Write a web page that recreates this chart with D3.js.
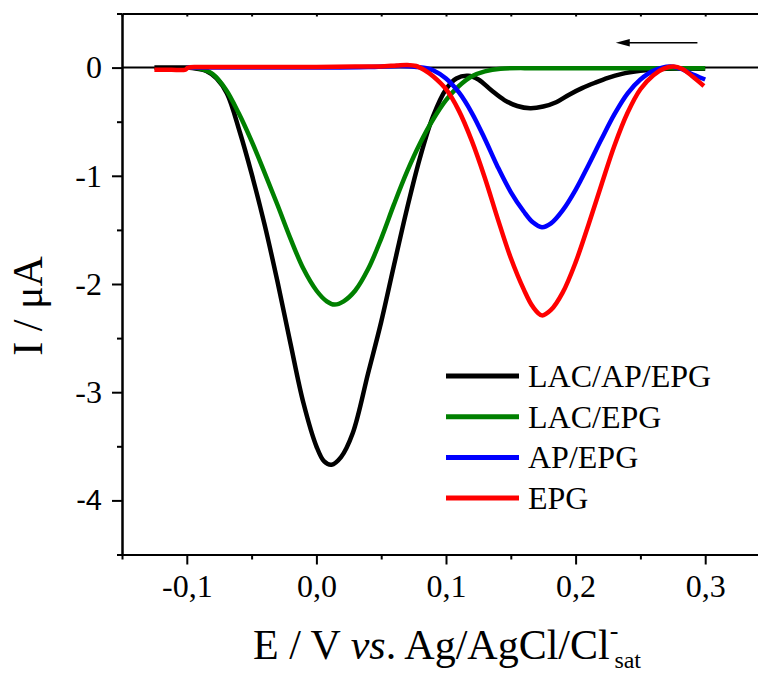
<!DOCTYPE html>
<html>
<meta charset="utf-8">
<style>
  body { margin: 0; background: #fff; }
  svg { display: block; }
</style>

<body>
  <svg></svg>
</body>

<script src="https://d3js.org/d3.v7.min.js"></script>

<script>

  var W = 758, H = 675;
  var margin = { top: 13.5, left: 122 };
  var width = 648, height = 541;

  // data: [E (V), I (uA)]
  var lacApEpg = [
    [-0.125, 0], [-0.110, 0], [-0.100, 0], [-0.092, -0.01], [-0.085, -0.03], [-0.077, -0.10],
    [-0.069, -0.24], [-0.059, -0.60], [-0.050, -0.98], [-0.040, -1.45], [-0.030, -1.98],
    [-0.020, -2.55], [-0.010, -3.10], [0.000, -3.50], [0.006, -3.64], [0.0117, -3.67],
    [0.019, -3.60], [0.028, -3.38], [0.040, -2.82], [0.050, -2.35], [0.060, -1.82],
    [0.070, -1.30], [0.080, -0.83], [0.090, -0.45], [0.100, -0.20], [0.108, -0.10],
    [0.117, -0.075], [0.125, -0.11], [0.135, -0.21], [0.145, -0.30], [0.155, -0.355],
    [0.165, -0.375], [0.175, -0.36], [0.185, -0.32], [0.195, -0.25], [0.205, -0.19],
    [0.215, -0.14], [0.225, -0.095], [0.235, -0.06], [0.250, -0.03], [0.270, -0.01], [0.300, -0.01]
  ];
  var lacEpg = [
    [-0.100, 0], [-0.090, -0.01], [-0.080, -0.06], [-0.070, -0.20], [-0.060, -0.42],
    [-0.050, -0.68], [-0.040, -0.97], [-0.030, -1.27], [-0.020, -1.58], [-0.010, -1.86],
    [0.000, -2.06], [0.008, -2.16], [0.014, -2.19], [0.021, -2.16], [0.030, -2.06],
    [0.040, -1.86], [0.050, -1.58], [0.060, -1.26], [0.070, -0.96], [0.080, -0.70],
    [0.090, -0.48], [0.100, -0.30], [0.110, -0.17], [0.120, -0.08], [0.130, -0.035],
    [0.142, -0.01], [0.170, -0.005], [0.220, -0.005], [0.300, -0.005]
  ];
  var apEpg = [
    [-0.100, 0], [-0.050, 0], [0.000, 0], [0.040, 0.005], [0.065, 0.015], [0.078, 0.005],
    [0.085, -0.005], [0.090, -0.025], [0.100, -0.10], [0.110, -0.23], [0.120, -0.42],
    [0.130, -0.66], [0.140, -0.92], [0.150, -1.15], [0.160, -1.33], [0.167, -1.43],
    [0.174, -1.475], [0.181, -1.44], [0.190, -1.32], [0.200, -1.13], [0.210, -0.90],
    [0.220, -0.66], [0.230, -0.43], [0.240, -0.24], [0.250, -0.11], [0.260, -0.03],
    [0.273, 0.01], [0.281, -0.01], [0.288, -0.05], [0.300, -0.11]
  ];
  var epg = [
    [-0.125, -0.02], [-0.112, -0.02], [-0.101, -0.018], [-0.099, 0.0], [-0.090, 0.005],
    [-0.050, 0.005], [0.000, 0.005],
    [0.030, 0.01], [0.049, 0.01], [0.062, 0.02], [0.070, 0.025], [0.077, 0.015],
    [0.083, -0.02], [0.090, -0.08], [0.100, -0.20], [0.110, -0.40], [0.120, -0.68],
    [0.130, -1.02], [0.140, -1.40], [0.150, -1.76], [0.160, -2.05], [0.167, -2.21],
    [0.174, -2.29], [0.181, -2.24], [0.190, -2.08], [0.200, -1.80], [0.210, -1.45],
    [0.220, -1.08], [0.230, -0.72], [0.240, -0.42], [0.250, -0.20], [0.260, -0.07],
    [0.268, -0.01], [0.2755, 0.01], [0.282, -0.01], [0.290, -0.08], [0.299, -0.17]
  ];

  var seriesNames = ["LAC/AP/EPG", "LAC/EPG", "AP/EPG", "EPG"];
  var seriesData = [lacApEpg, lacEpg, apEpg, epg];
  var seriesColors = ["#000000", "#008000", "#0000ff", "#ff0000"];

  var xTicks = [-0.1, 0.0, 0.1, 0.2, 0.3];
  var xTickLabels = ["-0,1", "0,0", "0,1", "0,2", "0,3"];
  var xMinor = [-0.15, -0.05, 0.05, 0.15, 0.25, 0.35];
  var yTicks = [0, -1, -2, -3, -4];
  var yTickLabels = ["0", "-1", "-2", "-3", "-4"];
  var yMinor = [0.5, -0.5, -1.5, -2.5, -3.5, -4.5];

  // scan direction arrow (E values, I level)
  var arrowE = [0.294, 0.231];
  var arrowI = 0.23;

  var svg = d3.select("svg")
    .attr("width", W)
    .attr("height", H)
    .append("g")
    .attr("transform", "translate(" + margin.left + "," + margin.top + ")");

  var x = d3.scaleLinear().domain([-0.15, 0.35]).range([0, width]);
  var y = d3.scaleLinear().domain([0.5, -4.5]).range([0, height]);

  var serif = "'Liberation Serif', 'Times New Roman', serif";

  // zero line
  svg.append("line")
    .attr("x1", 0).attr("x2", width)
    .attr("y1", y(0)).attr("y2", y(0))
    .attr("stroke", "#000").attr("stroke-width", 2);

  // curves
  var line = d3.line()
    .x(d => x(d[0]))
    .y(d => y(d[1]))
    .curve(d3.curveCatmullRom.alpha(0.5));

  svg.selectAll(".curve")
    .data(seriesData)
    .enter().append("path")
    .attr("class", "curve")
    .attr("d", line)
    .attr("fill", "none")
    .attr("stroke", (d, i) => seriesColors[i])
    .attr("stroke-width", 4.5)
    .attr("stroke-linejoin", "round");

  // axes
  function styleAxis(g) {
    g.selectAll("path, line").attr("stroke", "#000").attr("stroke-width", 2);
    g.selectAll("text").attr("fill", "#000").style("font-family", serif).style("font-size", "32px");
  }

  var xAxis = svg.append("g")
    .attr("transform", "translate(0," + height + ")")
    .call(d3.axisBottom(x).tickValues(xTicks).tickSize(10).tickSizeOuter(0)
      .tickPadding(8).tickFormat((d, i) => xTickLabels[i]))
    .call(styleAxis);
  xAxis.selectAll("text").attr("dy", "0.75em");

  svg.append("g")
    .attr("transform", "translate(0," + height + ")")
    .call(d3.axisBottom(x).tickValues(xMinor).tickSize(5).tickSizeOuter(0).tickFormat(""))
    .call(styleAxis);

  var yAxis = svg.append("g")
    .call(d3.axisLeft(y).tickValues(yTicks).tickSize(10).tickSizeOuter(0)
      .tickPadding(10).tickFormat((d, i) => yTickLabels[i]))
    .call(styleAxis);
  yAxis.selectAll("text").filter(d => d === -4)
    .style("font-family", "'Liberation Sans', Arial, sans-serif").style("font-size", "29px");

  svg.append("g")
    .call(d3.axisLeft(y).tickValues(yMinor).tickSize(5).tickSizeOuter(0).tickFormat(""))
    .call(styleAxis);

  // top frame line
  svg.append("g")
    .call(d3.axisTop(x).tickValues(xTicks.concat(xMinor)).tickSize(-3).tickSizeOuter(0).tickFormat(""))
    .call(styleAxis);

  // arrow
  svg.append("line")
    .attr("x1", x(arrowE[0])).attr("x2", x(arrowE[1]) + 10)
    .attr("y1", y(arrowI)).attr("y2", y(arrowI))
    .attr("stroke", "#000").attr("stroke-width", 1.5);
  var ax = x(arrowE[1]), ay = y(arrowI);
  svg.append("path")
    .attr("d", "M" + ax + "," + ay + "L" + (ax + 14) + "," + (ay - 3.8) + "L" + (ax + 14) + "," + (ay + 3.8) + "Z")
    .attr("fill", "#000");

  // legend
  var legend = svg.append("g").attr("transform", "translate(" + (446 - margin.left) + "," + (376 - margin.top) + ")");
  seriesNames.forEach(function (name, i) {
    var g = legend.append("g").attr("transform", "translate(0," + (i * 40.7) + ")");
    g.append("line")
      .attr("x1", 0).attr("x2", 73)
      .attr("stroke", seriesColors[i]).attr("stroke-width", 5);
    g.append("text")
      .attr("x", 82).attr("y", 11)
      .style("font-family", serif).style("font-size", "32px")
      .text(name);
  });

  // axis titles
  var root = d3.select("svg");
  var xt = root.append("text")
    .attr("x", 253).attr("y", 659)
    .style("font-family", serif).style("font-size", "42px");
  xt.append("tspan").text("E / V ");
  xt.append("tspan").style("font-style", "italic").text("vs");
  xt.append("tspan").text(". Ag/AgCl/Cl");
  xt.append("tspan").attr("dy", -20).style("font-size", "26px").text("-");
  xt.append("tspan").attr("dy", 29).attr("dx", -4).style("font-size", "24px").text("sat");

  root.append("text")
    .attr("transform", "translate(42,306) rotate(-90)")
    .attr("text-anchor", "middle")
    .style("font-family", serif).style("font-size", "42px")
    .text("I / \u03bcA");

</script>

</html>
